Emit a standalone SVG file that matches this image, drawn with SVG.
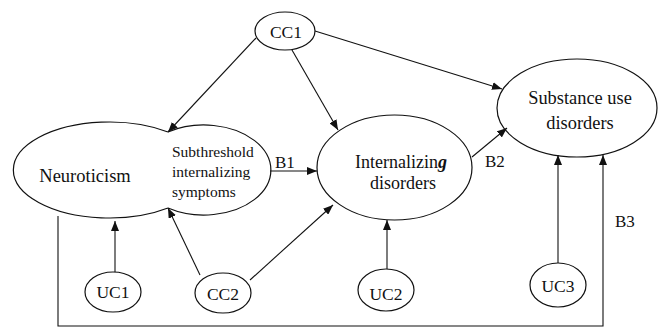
<svg xmlns="http://www.w3.org/2000/svg" width="669" height="329" viewBox="0 0 669 329" font-family="'Liberation Serif', 'Times New Roman', 'DejaVu Serif', serif">
<style>
.shape{fill:none;stroke:#111;stroke-width:1.2}
.node{fill:#fff;stroke:#111;stroke-width:1.2}
text{font-family:'Liberation Serif','Times New Roman','DejaVu Serif',serif;fill:#111}
.t{text-anchor:middle}
.s{text-anchor:start}
.lbl{font-size:17px}
.edge{fill:none;stroke:#111;stroke-width:1.1;marker-end:url(#ah)}
</style>
<defs>
<marker id="ah" viewBox="0 0 10 8" refX="10" refY="4" markerWidth="10" markerHeight="8" markerUnits="userSpaceOnUse" orient="auto">
<path d="M0,0 L10,4 L0,8 z" fill="#111"/>
</marker>
</defs>
<rect width="669" height="329" fill="#fff"/>
<g id="neuroticism">
<path class="shape" d="M168,132 A96,48 0 1,0 168,208"/>
<text class="t" x="85" y="182" font-size="18.5">Neuroticism</text>
</g>
<g id="subthreshold">
<path class="shape" d="M168,208 A67,45 0 1,0 168,132"/>
<text class="s" x="172" y="157" font-size="15.5">Subthreshold</text>
<text class="s" x="172" y="177" font-size="15.5">internalizing</text>
<text class="s" x="172" y="197" font-size="15.5">symptoms</text>
</g>
<g id="internalizing">
<ellipse class="node" cx="394.5" cy="167.5" rx="77.5" ry="52.5"/>
<text class="t" x="401" y="168" font-size="18">Internalizin<tspan font-style="italic" font-weight="bold">g</tspan></text>
<text class="t" x="403" y="189" font-size="18">disorders</text>
</g>
<g id="substance">
<ellipse class="node" cx="577" cy="108" rx="80" ry="49"/>
<text class="t" x="580" y="104" font-size="18.4">Substance use</text>
<text class="t" x="580" y="129" font-size="18.4">disorders</text>
</g>
<g id="cc1">
<ellipse class="node" cx="285" cy="31" rx="30" ry="19"/>
<text class="t" x="286" y="38" font-size="17.5">CC1</text>
</g>
<g id="uc1">
<ellipse class="node" cx="113" cy="292" rx="28" ry="20"/>
<text class="t" x="113" y="298" font-size="17.5">UC1</text>
</g>
<g id="cc2">
<ellipse class="node" cx="223" cy="293" rx="28" ry="20"/>
<text class="t" x="223" y="300" font-size="17.5">CC2</text>
</g>
<g id="uc2">
<ellipse class="node" cx="386" cy="290" rx="28" ry="21"/>
<text class="t" x="386" y="300" font-size="17.5">UC2</text>
</g>
<g id="uc3">
<ellipse class="node" cx="558" cy="285" rx="28" ry="22"/>
<text class="t" x="558" y="292" font-size="17.5">UC3</text>
</g>
<g id="connectors">
<path class="edge" d="M256,38 L168,132"/>
<path class="edge" d="M292,50 L338,130"/>
<path class="edge" d="M315,31 L502,89"/>
<path class="edge" d="M270,171 L317,171"/>
<path class="edge" d="M472,157 L507,128"/>
<path class="edge" d="M115,272 L115,221"/>
<path class="edge" d="M200,275 L168,208"/>
<path class="edge" d="M250,280 L333,205"/>
<path class="edge" d="M387,269 L387,220"/>
<path class="edge" d="M558,263 L558,155"/>
<path class="edge" d="M58,216 L58,326 L603,326 L603,155"/>
<text class="lbl" x="275" y="168">B1</text>
<text class="lbl" x="485" y="167">B2</text>
<text class="lbl" x="615" y="227">B3</text>
</g>
</svg>
